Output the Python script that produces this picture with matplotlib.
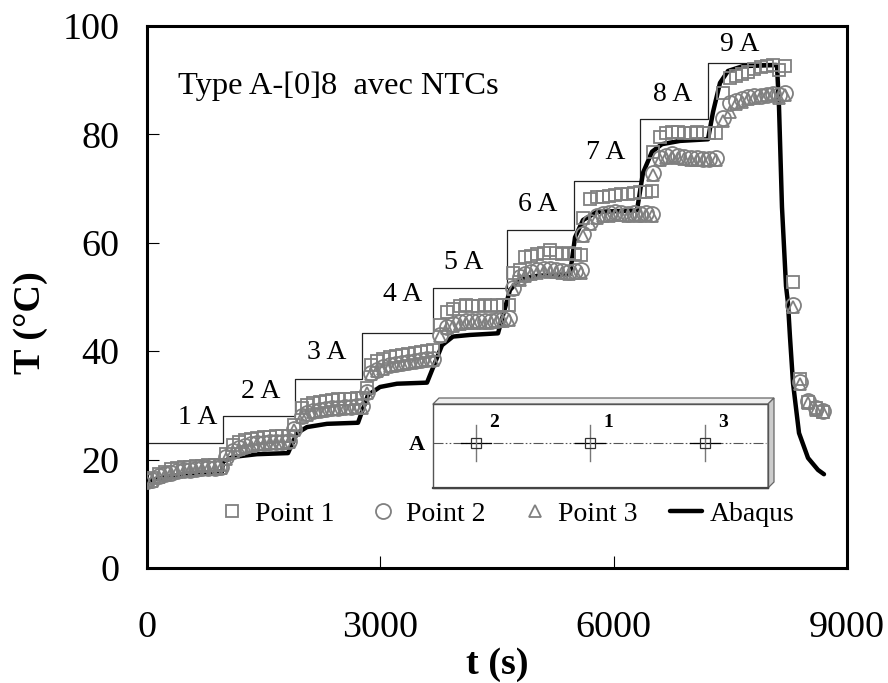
import matplotlib
matplotlib.use("Agg")
import matplotlib.pyplot as plt

plt.rcParams['font.family'] = ['Liberation Serif', 'DejaVu Serif']

# measured points
t_points = [0, 70, 150, 230, 310, 390, 470, 550, 630, 710, 790, 870, 950,
            1020, 1100, 1180, 1260, 1340, 1420, 1500, 1580, 1660, 1740, 1820, 1890,
            1990, 2060, 2140, 2220, 2300, 2380, 2460, 2540, 2620, 2700, 2770, 2830,
            2880, 2960, 3040, 3120, 3200, 3280, 3360, 3440, 3520, 3600, 3680, 3770,
            3860, 3940, 4020, 4100, 4180, 4260, 4340, 4420, 4500, 4580, 4650,
            4705, 4790, 4860, 4940, 5020, 5100, 5180, 5260, 5340, 5420, 5500, 5580,
            5610, 5700, 5780, 5860, 5940, 6020, 6100, 6180, 6260, 6340, 6420, 6490,
            6505, 6590, 6670, 6750, 6830, 6910, 6990, 7070, 7150, 7230, 7310,
            7400, 7490, 7570, 7650, 7730, 7810, 7890, 7970, 8050, 8130, 8205,
            8306, 8396, 8499, 8602, 8692]
point1 = [16.2, 16.6, 17.4, 17.8, 18.2, 18.5, 18.6, 18.7, 18.8, 18.9, 19.0, 19.0, 19.0,
          21.0, 22.7, 23.3, 23.6, 23.8, 24.0, 24.1, 24.2, 24.3, 24.3, 24.4, 26.4,
          29.5, 30.0, 30.4, 30.7, 30.9, 31.0, 31.1, 31.2, 31.2, 31.3, 31.3, 33.2,
          37.5, 38.2, 38.6, 38.9, 39.1, 39.3, 39.5, 39.7, 39.9, 40.0, 40.2, 44.9,
          47.2, 47.8, 48.4, 48.5, 48.3, 48.4, 48.5, 48.3, 48.6, 48.5, 48.6,
          54.4, 55.0, 57.3, 57.6, 58.0, 58.2, 58.7, 58.2, 58.0, 58.2, 57.9, 57.7,
          64.6, 68.0, 68.4, 68.5, 68.7, 68.9, 69.0, 69.0, 69.2, 69.3, 69.4, 69.5,
          76.8, 79.5, 80.3, 80.4, 80.4, 80.3, 80.3, 80.4, 80.2, 80.3, 80.3,
          87.6, 90.4, 90.8, 91.2, 91.5, 92.1, 92.5, 92.7, 92.8, 91.9, 92.6,
          52.8, 34.8, 30.6, 29.5, 28.8]
point2 = [16.0, 16.2, 16.9, 17.4, 17.6, 17.9, 18.0, 18.1, 18.3, 18.4, 18.4, 18.5, 18.6,
          20.4, 21.6, 22.2, 22.6, 22.8, 23.0, 23.1, 23.2, 23.3, 23.3, 23.4, 25.6,
          28.0, 28.6, 29.0, 29.2, 29.4, 29.5, 29.6, 29.7, 29.7, 29.8, 29.8, 32.4,
          36.0, 36.6, 37.0, 37.4, 37.6, 37.8, 38.0, 38.2, 38.4, 38.5, 38.6, 43.0,
          44.5, 45.0, 45.3, 45.5, 45.5, 45.6, 45.5, 45.6, 45.8, 45.9, 46.1,
          51.7, 53.6, 54.3, 54.6, 54.9, 55.2, 55.2, 55.0, 54.8, 54.7, 54.8, 54.9,
          61.6, 63.8, 65.0, 65.3, 65.5, 65.6, 65.5, 65.4, 65.5, 65.4, 65.5, 65.4,
          72.9, 75.6, 76.0, 76.3, 76.1, 75.9, 75.7, 75.7, 75.5, 75.5, 75.6,
          83.0, 85.8, 86.2, 86.5, 86.9, 87.0, 87.1, 87.3, 87.4, 87.2, 87.6,
          48.5, 34.4, 30.8, 29.5, 29.0]
point3 = [15.9, 16.1, 16.7, 17.2, 17.5, 17.8, 17.9, 18.0, 18.1, 18.2, 18.3, 18.3, 18.4,
          20.2, 21.4, 22.0, 22.4, 22.6, 22.8, 22.9, 23.0, 23.1, 23.1, 23.2, 25.4,
          27.8, 28.3, 28.8, 29.0, 29.2, 29.3, 29.4, 29.5, 29.5, 29.6, 29.6, 32.2,
          35.8, 36.4, 36.8, 37.2, 37.4, 37.6, 37.8, 38.0, 38.2, 38.3, 38.4, 42.8,
          44.2, 44.7, 45.0, 45.2, 45.2, 45.3, 45.2, 45.3, 45.5, 45.6, 45.8,
          51.4, 53.2, 53.9, 54.2, 54.5, 54.8, 54.7, 54.6, 54.4, 54.3, 54.4, 54.5,
          61.3, 63.4, 64.5, 64.9, 65.0, 65.2, 65.1, 65.0, 65.1, 65.0, 65.1, 65.0,
          72.6, 75.2, 75.6, 75.9, 75.7, 75.5, 75.3, 75.3, 75.2, 75.2, 75.3,
          82.5, 84.2, 85.6, 86.0, 86.5, 86.7, 87.0, 87.2, 87.5, 86.8, 87.3,
          48.2, 34.0, 30.4, 29.2, 28.8]

# simulation curve
t_abaqus = [0, 300, 600, 964, 977, 1106, 1414, 1813, 1929, 2057, 2314, 2713,
            2841, 2996, 3214, 3600, 3793, 3934, 4153, 4513, 4667, 4796, 5014, 5439,
            5503, 5606, 5786, 6300, 6377, 6493, 6621, 6853, 7213, 7277, 7367, 7470,
            7663, 8100, 8126, 8164, 8216, 8241, 8267, 8306, 8383, 8499, 8627, 8704]
T_abaqus = [16.0, 17.0, 17.5, 17.8, 19.6, 20.5, 21.0, 21.2, 24.9, 26.0, 26.6, 26.8,
            31.9, 33.4, 34.0, 34.2, 41.1, 42.7, 43.0, 43.3, 51.3, 53.3, 53.9, 54.2,
            61.0, 64.2, 65.7, 66.0, 72.9, 76.8, 78.2, 78.8, 79.1, 84.1, 89.5, 91.7,
            92.6, 92.8, 85.0, 66.6, 52.0, 48.9, 42.6, 34.1, 24.9, 20.3, 18.1, 17.3]

# current steps
t_steps = [0, 977, 1902, 2764, 3676, 4627, 5488, 6337, 7211, 8072]
T_steps = [23.1, 28.0, 34.9, 43.4, 51.7, 62.4, 71.4, 82.8, 93.2, 93.2]

step_labels = ["1 A", "2 A", "3 A", "4 A", "5 A", "6 A", "7 A", "8 A", "9 A"]
label_t = [656, 1466, 2314, 3291, 4076, 5027, 5901, 6763, 7624]
label_T = [27.7, 32.5, 39.7, 50.4, 56.3, 67.0, 76.6, 87.3, 96.5]

W, H = 888, 683
fig = plt.figure(figsize=(W / 100, H / 100), dpi=100)
ax = fig.add_axes([147 / W, 1 - 568 / H, 700 / W, 542 / H])

grey = '#808080'
ax.plot(t_steps, T_steps, drawstyle='steps-post', color='#222222', lw=0.9, zorder=1)
ax.plot(t_abaqus, T_abaqus, color='black', lw=3.2, zorder=2, label='Abaqus',
        solid_capstyle='round')
ax.plot(t_points, point1, ls='none', marker='s', ms=8.6, mfc='none', mec=grey, mew=1.3,
        zorder=3, label='Point 1')
ax.plot(t_points, point2, ls='none', marker='o', ms=10.8, mfc='none', mec=grey, mew=1.3,
        zorder=4, label='Point 2')
ax.plot(t_points, point3, ls='none', marker='^', ms=8.8, mfc='none', mec=grey, mew=1.3,
        zorder=5, label='Point 3')

for lab, x, y in zip(step_labels, label_t, label_T):
    ax.text(x, y, lab, fontsize=20, ha='center', va='center')
ax.text(399, 88.9, "Type A-[0]8  avec NTCs", fontsize=23.4, ha='left', va='center')

ax.set_xlim(0, 9000)
ax.set_ylim(0, 100)
ax.set_xticks([0, 3000, 6000, 9000])
ax.set_yticks([0, 20, 40, 60, 80, 100])
ax.tick_params(axis='x', direction='in', length=8.6, width=0.8, labelsize=27.4, pad=30.5)
ax.tick_params(axis='y', direction='in', length=8.6, width=0.8, labelsize=27.4, pad=20)
for side in ax.spines.values():
    side.set_linewidth(2.2)

ax.set_xlabel("t (s)", fontsize=27.5, fontweight='bold', va='center')
ax.set_ylabel("T (°C)", fontsize=27.5, fontweight='bold', va='center')
ax.xaxis.set_label_coords(0.5, -0.178)
ax.yaxis.set_label_coords(-0.167, 0.452)

handles, labels = ax.get_legend_handles_labels()
order = [1, 2, 3, 0]
ax.legend([handles[i] for i in order], [labels[i] for i in order], ncol=4, frameon=False,
          fontsize=20, loc='center left', bbox_to_anchor=(0.0986, 0.10), borderpad=0,
          borderaxespad=0, handlelength=1.15, handletextpad=0.25, columnspacing=1.19)

# sketch of the specimen, drawn in pixel coordinates
sketch = fig.add_axes([0, 0, 1, 1], facecolor='none')
sketch.set_xlim(0, W)
sketch.set_ylim(H, 0)
sketch.axis('off')
sketch.fill([433, 439, 774, 768], [404, 398, 398, 404], color='#eeeeee', ec='#666666', lw=0.9)
sketch.fill([768, 774, 774, 768], [404, 398, 482, 488], color='#cccccc', ec='#666666', lw=0.9)
sketch.plot([433, 768, 768, 433, 433], [404, 404, 488, 488, 404], color='#555555', lw=1.0)
sketch.plot([433, 768], [488, 488], color='#444444', lw=1.6)
sketch.plot([433, 766], [443, 443], color='#555555', lw=0.8, dashes=(9, 2, 1.5, 2, 1.5, 2))
for x, name in zip([476, 590, 705], ["2", "1", "3"]):
    sketch.plot([x - 15, x + 15], [443, 443], color='black', lw=0.9)
    sketch.plot([x, x], [425, 461], color='#777777', lw=1.0)
    sketch.plot([x], [443], marker='s', ms=7.8, mfc='none', mec='#333333', mew=0.9)
    sketch.text(x + 18, 422.5, name, fontsize=14, fontweight='bold', ha='center', va='center')
sketch.text(417, 445, "A", fontsize=16, fontweight='bold', ha='center', va='center')

fig.savefig("out.png", dpi=100)
